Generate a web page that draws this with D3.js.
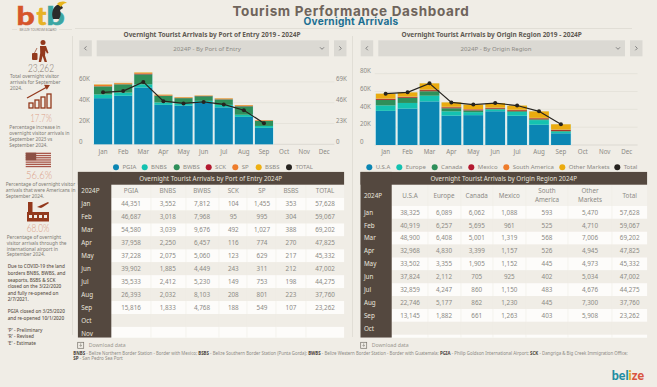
<!DOCTYPE html>
<html>
<head>
<title>Tourism Performance Dashboard</title>
<script src="https://d3js.org/d3.v7.min.js"></script>
<style>
html, body { margin: 0; padding: 0; background: #f0ede6; }
svg { display: block; font-family: "Noto Sans", sans-serif; }
.axis text { fill: #8c8a85; font-size: 6.2px; font-family: "Noto Sans", sans-serif; }
.axis path, .axis line { display: none; }
.side { fill: #7d7a74; font-size: 4.8px; }
.note { fill: #5c5249; font-size: 4.7px; font-weight: 500; }
.pct { fill: #dc9f87; font-size: 12px; font-weight: 300; font-family: "Lato", sans-serif; text-anchor: middle; }
</style>
</head>
<body>
<div id="chart"></div>
<script>
// months
var months = ["Jan","Feb","Mar","Apr","May","Jun","Jul","Aug","Sep","Oct","Nov","Dec"];

// by port of entry, 2024P
var pgia = [44351,46687,54580,37958,37228,39902,35533,26393,15816];
var bnbs = [3552,3018,3039,2250,2075,1885,2412,2032,1833];
var bwbs = [7812,7968,9676,6457,5060,4449,5230,8103,4768];
var sck = [104,95,492,116,123,243,149,208,188];
var sp = [1455,995,1027,774,629,311,753,801,549];
var bsbs = [353,304,388,270,217,212,198,223,107];

// by origin region, 2024P
var usa = [38325,40919,48900,32968,33502,37824,32859,22746,13145];
var europe = [6089,6257,6408,4830,3355,2112,4247,5177,1882];
var canada = [6062,5695,5001,3399,1905,705,860,862,661];
var mexico = [1088,961,1319,1157,1152,925,1150,1230,1263];
var southAmerica = [593,525,568,526,445,402,483,445,403];
var otherMarkets = [5470,4710,7006,4945,4973,5034,4676,7300,5908];

var totals = [57628,59067,69202,47825,45332,47002,44275,37760,23262];

var portNames = ["PGIA","BNBS","BWBS","SCK","SP","BSBS"];
var regionNames = ["U.S.A","Europe","Canada","Mexico","South America","Other Markets"];
var portColors = ["#0b86b3","#14c2b0","#2f8f5a","#b3192f","#ee7c2b","#eeb012"];
var regionColors = ["#0b86b3","#14c2b0","#2f8f5a","#a8382a","#ee7c2b","#ebab0f"];

var leftTicks = [0,20000,40000,60000];
var rightTicks = [0,23067,46134,69202];
var regionTicks = [0,20000,40000,60000,80000];

var bg = "#f0ede6", dark = "#54483f";
var width = 657, height = 387;

var svg = d3.select("#chart").append("svg").attr("width", width).attr("height", height);
var fmtK = function(d){ return d === 0 ? "0" : Math.round(d/1000) + "K"; };

// header
svg.append("text").attr("x",351).attr("y",15.6).attr("text-anchor","middle")
	.style("font-family","Inter").style("font-weight",700).style("font-size","13.5px")
	.style("letter-spacing","0.65px").attr("fill","#6f645b").text("Tourism Performance Dashboard");
svg.append("text").attr("x",351).attr("y",24.8).attr("text-anchor","middle")
	.style("font-family","Inter").style("font-weight",700).style("font-size","10.1px")
	.style("letter-spacing","0.25px").attr("fill","#1c6f92").text("Overnight Arrivals");
svg.append("line").attr("x1",75).attr("x2",632).attr("y1",28.5).attr("y2",28.5).attr("stroke","#e1ded6");
svg.append("line").attr("x1",352.5).attr("x2",352.5).attr("y1",36).attr("y2",337).attr("stroke","#e1ded6");
svg.append("line").attr("x1",72.5).attr("x2",72.5).attr("y1",36).attr("y2",335).attr("stroke","#e1ded6");

function selector(c){
	var g = svg.append("g");
	[[c.prev,12.5],[c.box,c.boxW],[c.next,12.5]].forEach(function(b){
		g.append("rect").attr("x",b[0]).attr("y",40.3).attr("width",b[1]).attr("height",16).attr("fill","#dbd9d3");
	});
	g.append("path").attr("d","M"+(c.prev+7.2)+" 46.3l-2 2 2 2").attr("fill","none").attr("stroke","#777").attr("stroke-width",0.9);
	g.append("path").attr("d","M"+(c.next+5.3)+" 46.3l2 2-2 2").attr("fill","none").attr("stroke","#777").attr("stroke-width",0.9);
	g.append("path").attr("d","M"+(c.box+c.boxW-9)+" 47.3l2 2 2-2").attr("fill","none").attr("stroke","#777").attr("stroke-width",0.9);
	g.append("text").attr("x",c.box+c.boxW/2+(c.textShift||0)).attr("y",50.5).attr("text-anchor","middle")
		.attr("fill","#8c8a85").style("font-size","6.1px").text(c.label);
}

function drawChart(c){
	svg.append("text").attr("x",c.titleX).attr("y",36.7).attr("text-anchor","middle")
		.attr("fill","#5f5a53").style("font-size","6.5px").style("font-weight",700).text(c.title);

	selector(c);

	var x = d3.scaleBand().domain(months).range(c.xRange).paddingInner(0.1).paddingOuter(0.05);
	var y = d3.scaleLinear().domain(c.yDomain).range(c.yRange);
	var yLine = d3.scaleLinear().domain(c.lineDomain).range(c.yRange);

	// gridlines
	svg.append("g").selectAll("line").data(c.ticks).join("line")
		.attr("x1",c.xRange[0]).attr("x2",c.xRange[1])
		.attr("y1",function(d){ return y(d); }).attr("y2",function(d){ return y(d); })
		.attr("stroke",function(d){ return d === 0 ? "#dcd9d2" : "#e6e3db"; });

	// y axes, tableau style with labels sitting over the gridline
	var ax = svg.append("g").attr("class","axis").attr("transform","translate("+c.axisX+",0)")
		.call(d3.axisLeft(y).tickValues(c.ticks).tickFormat(fmtK).tickSize(0).tickPadding(0));
	ax.selectAll("text").attr("text-anchor","start").attr("dy","-1.3px");

	if (c.rightTicks) {
		var ax2 = svg.append("g").attr("class","axis").attr("transform","translate("+c.axisRightX+",0)")
			.call(d3.axisRight(yLine).tickValues(c.rightTicks).tickFormat(fmtK).tickSize(0).tickPadding(0));
		ax2.selectAll("text").attr("dy","-1.3px");
	}

	svg.append("g").attr("class","axis").attr("transform","translate(0,148.8)")
		.call(d3.axisBottom(x).tickSize(0).tickPadding(0))
		.selectAll("text").attr("dy","5.2px");

	// pale halo behind each bar
	svg.append("g").selectAll("rect").data(totals).join("rect")
		.attr("x",function(d, i){ return x(months[i]) - 0.7; })
		.attr("width",x.bandwidth() + 1.4)
		.attr("y",function(d){ return y(d); })
		.attr("height",function(d){ return y(0) - y(d); })
		.attr("fill","#d6f0f3");

	// stacked bars
	var rows = c.series[0].map(function(_, i){
		var r = {month: months[i]};
		c.names.forEach(function(n, k){ r[n] = c.series[k][i]; });
		return r;
	});
	var layers = d3.stack().keys(c.names)(rows);
	svg.append("g").selectAll("g").data(layers).join("g")
		.attr("fill",function(d, i){ return c.colors[i]; })
		.selectAll("rect").data(function(d){ return d; }).join("rect")
		.attr("x",function(d){ return x(d.data.month); })
		.attr("width",x.bandwidth())
		.attr("y",function(d){ return y(d[1]); })
		.attr("height",function(d){ return y(d[0]) - y(d[1]); });

	// total line
	var line = d3.line()
		.x(function(d, i){ return x(months[i]) + x.bandwidth()/2; })
		.y(function(d){ return yLine(d); });
	svg.append("path").attr("d",line(totals)).attr("fill","none").attr("stroke","#26231f").attr("stroke-width",1.2);
	svg.append("g").selectAll("circle").data(totals).join("circle")
		.attr("cx",function(d, i){ return x(months[i]) + x.bandwidth()/2; })
		.attr("cy",function(d){ return yLine(d); })
		.attr("r",2).attr("fill","#26231f");

	// legend
	var legend = svg.append("g").selectAll("g").data(c.legend).join("g")
		.attr("transform",function(d){ return "translate("+d.x+",167.3)"; });
	legend.append("circle").attr("r",3).attr("fill",function(d){ return d.color; });
	legend.append("text").attr("x",6.4).attr("y",2.1).attr("fill","#8c8a85").style("font-size","6px")
		.text(function(d){ return d.name; });
}

function drawTable(c){
	var id = "clip" + Math.round(c.left);
	svg.append("clipPath").attr("id",id).append("rect")
		.attr("x",c.left).attr("y",171.7).attr("width",c.right-c.left).attr("height",166);
	var g = svg.append("g").attr("clip-path","url(#"+id+")");

	var rowMonths = months.slice(0,11);
	var y = d3.scaleBand().domain(rowMonths).range([c.bodyTop, c.bodyTop + c.rowH*11]);
	var cx = d3.scaleOrdinal().domain(c.headers).range(c.centers);

	// striped rows
	g.selectAll(".stripe").data(rowMonths).join("rect")
		.attr("x",c.colX).attr("width",c.right-c.colX)
		.attr("y",function(d){ return y(d); }).attr("height",y.bandwidth())
		.attr("fill",function(d, i){ return i % 2 ? bg : "#fdfcfa"; });
	g.append("rect").attr("x",c.colX).attr("width",c.right-c.colX).attr("y",184.7).attr("height",c.bodyTop-184.7).attr("fill","#f4f2ed");
	g.selectAll(".sep").data(c.seps).join("line")
		.attr("x1",function(d){ return d; }).attr("x2",function(d){ return d; })
		.attr("y1",184.7).attr("y2",337.7).attr("stroke","#f0ede6").attr("stroke-width",0.6);

	g.append("rect").attr("x",c.left).attr("y",171.7).attr("width",c.right-c.left).attr("height",13).attr("fill",dark);
	g.append("rect").attr("x",c.left).attr("y",171.7).attr("width",c.colX-c.left).attr("height",166).attr("fill",dark);

	g.append("text").attr("x",c.titleX).attr("y",180.5).attr("text-anchor","middle")
		.attr("fill","#e9e5de").style("font-size","6.3px").text(c.title);
	g.append("text").attr("x",c.left+3.6).attr("y",(184.7+c.bodyTop)/2+2.3)
		.attr("fill","#e9e5de").style("font-size","6.3px").text("2024P");

	// column headers, two words go on two lines
	c.headers.forEach(function(h){
		var parts = c.wrap && h.indexOf(" ") > 0 ? h.split(" ") : [h];
		parts.forEach(function(p, i){
			g.append("text").attr("x",cx(h))
				.attr("y",(184.7+c.bodyTop)/2+2.3+(i-(parts.length-1)/2)*8.6)
				.attr("text-anchor","middle").attr("fill","#8c8a85").style("font-size","6.3px").text(p);
		});
	});

	// row labels
	g.selectAll(".mon").data(rowMonths).join("text")
		.attr("x",c.left+3.6).attr("y",function(d){ return y(d) + y.bandwidth()/2 + 2.3; })
		.attr("fill","#e9e5de").style("font-size","6.3px").text(function(d){ return d; });

	// values
	var fmt = d3.format(",");
	c.columns.forEach(function(col, k){
		g.append("g").selectAll("text").data(col).join("text")
			.attr("x",cx(c.headers[k]))
			.attr("y",function(d, i){ return y(months[i]) + y.bandwidth()/2 + 2.3; })
			.attr("text-anchor","middle").attr("fill","#8c8a85").style("font-size","6.3px")
			.text(function(d){ return fmt(d); });
	});

	// download link
	var dl = svg.append("g").attr("transform","translate("+c.dlX+",345.3)");
	dl.append("rect").attr("x",-3).attr("y",-3).attr("width",6).attr("height",6).attr("fill","none").attr("stroke","#77736c").attr("stroke-width",0.7);
	dl.append("path").attr("d","M0 -2v3M-1.2 -0.2L0 1l1.2 -1.2").attr("fill","none").attr("stroke","#77736c").attr("stroke-width",0.6);
	dl.append("text").attr("x",8).attr("y",1.9).attr("fill","#9a978f").style("font-size","5.2px").text("Download data");
}

drawChart({
	title:"Overnight Tourist Arrivals by Port of Entry 2019 - 2024P", titleX:212,
	label:"2024P - By Port of Entry", prev:79.3, box:96.7, boxW:232.3, next:334, textShift:-5.8,
	xRange:[93,334.4], yDomain:[0,60000], yRange:[144.3,81.9], lineDomain:[0,69202],
	ticks:leftTicks, rightTicks:rightTicks, axisX:79, axisRightX:336,
	series:[pgia,bnbs,bwbs,sck,sp,bsbs], names:portNames, colors:portColors,
	legend:[
		{name:"PGIA",x:116,color:portColors[0]},{name:"BNBS",x:144.7,color:portColors[1]},
		{name:"BWBS",x:176.7,color:portColors[2]},{name:"SCK",x:208.7,color:portColors[3]},
		{name:"SP",x:235.3,color:portColors[4]},{name:"BSBS",x:258.7,color:portColors[5]},
		{name:"TOTAL",x:289,color:"#26231f"}
	]
});

drawChart({
	title:"Overnight Tourist Arrivals by Origin Region 2019 - 2024P", titleX:491.7,
	label:"2024P - By Origin Region", prev:360.7, box:378.3, boxW:246.7, next:630, textShift:-5.6,
	xRange:[374.7,637.6], yDomain:[0,80000], yRange:[145,73.7], lineDomain:[0,80000],
	ticks:regionTicks, axisX:360,
	series:[usa,europe,canada,mexico,southAmerica,otherMarkets], names:regionNames, colors:regionColors,
	legend:[
		{name:"U.S.A",x:369.3,color:regionColors[0]},{name:"Europe",x:399.3,color:regionColors[1]},
		{name:"Canada",x:434.7,color:regionColors[2]},{name:"Mexico",x:471.3,color:"#b3192f"},
		{name:"South America",x:506.3,color:regionColors[4]},{name:"Other Markets",x:562.3,color:regionColors[5]},
		{name:"Total",x:617.3,color:"#26231f"}
	]
});

drawTable({
	title:"Overnight Tourist Arrivals by Port of Entry 2024P", titleX:210.7,
	left:77.7, right:344.3, colX:111.3, bodyTop:197.6, rowH:12.93,
	headers:portNames.concat("TOTAL"), centers:[131,167.7,202,233.3,262,291,325],
	seps:[151,186,219,247,276,306],
	columns:[pgia,bnbs,bwbs,sck,sp,bsbs,totals], dlX:80.7
});

drawTable({
	title:"Overnight Tourist Arrivals by Origin Region 2024P", titleX:503.7, wrap:true,
	left:360.3, right:647.3, colX:391.7, bodyTop:206, rowH:12.87,
	headers:regionNames.concat("Total"), centers:[410,444,476.7,509.3,547,590,629.7],
	seps:[428,461,493,526,568,612],
	columns:[usa,europe,canada,mexico,southAmerica,otherMarkets,totals], dlX:363.7
});

// footnote
var foot = svg.append("g").style("font-size","4.5px").attr("fill","#8c8a85");
var line1 = foot.append("text").attr("x",73.3).attr("y",355.4)
	.attr("textLength",554.4).attr("lengthAdjust","spacingAndGlyphs");
[["BNBS",1]," - Belize Northern Border Station - Border with Mexico; ",["BSBS",1]," - Belize Southern Border Station (Punta Gorda); ",["BWBS",1],
 " - Belize Western Border Station - Border with Guatemala; ",["PGIA",1]," - Philip Goldson International Airport; ",["SCK",1]," - Dangriga & Big Creek Immigration Office;"]
.forEach(function(p){
	if (typeof p === "string") line1.append("tspan").text(p);
	else line1.append("tspan").attr("fill","#4a433c").style("font-weight",700).text(p[0]);
});
var line2 = foot.append("text").attr("x",73.3).attr("y",360.4);
line2.append("tspan").attr("fill","#4a433c").style("font-weight",700).text("SP");
line2.append("tspan").text(" - San Pedro Sea Port");

// belize logo
var bz = svg.append("text").attr("x",611.7).attr("y",380).style("font-family","Lato").style("font-weight",900).style("font-size","12.4px");
bz.append("tspan").attr("fill","#1f8ea3").text("bel");
bz.append("tspan").attr("fill","#e5a823").text("i");
bz.append("tspan").attr("fill","#d9553f").text("ze");

// side panel
var side = svg.append("g");
function logoLetter(t, xp, col, sx){
	side.append("text").attr("transform","translate("+xp+",25) scale("+sx+",1)").attr("fill",col)
		.attr("stroke",col).attr("stroke-width",0.5)
		.style("font-family","Lato").style("font-weight",900).style("font-size","25px").text(t);
}
logoLetter("b",16.5,"#d6552b",1.28);
logoLetter("t",36.5,"#e7b226",1.05);
logoLetter("b",46.5,"#3ba6a3",1.28);
side.append("path").attr("d","M53 19c-2-6 0-12 4-14 3-1 5 0 6 3l-3 2c1 3 1 6-1 9z").attr("fill","#2b2b2b");
side.append("path").attr("d","M57 4c3-3 7-3 10-1-3 0-5 2-6 4z").attr("fill","#e8b51f");
side.append("text").attr("x",38).attr("y",31).attr("text-anchor","middle").attr("fill","#8a867f")
	.style("font-size","3.2px").text("BELIZE TOURISM BOARD");
side.append("path").attr("d","M12 29.5h5M59 29.5h13").attr("stroke","#d6d3cb").attr("stroke-width",0.5);

var rust = "#93391d";
// traveller
var tr = side.append("g").attr("fill",rust);
tr.append("circle").attr("cx",43).attr("cy",42.5).attr("r",2.5);
tr.append("path").attr("d","M40 46h6l2.5 7-1.5.6-1.5-3-.5 5 2 6.4h-2.4l-2-6-1.5 6h-2.4l1.5-9z");
tr.append("rect").attr("x",32).attr("y",53).attr("width",5.5).attr("height",7).attr("rx",1);
tr.append("path").attr("d","M34.5 53l2.5-5").attr("stroke",rust).attr("stroke-width",0.7);

// bars and arrow
var bi = side.append("g").attr("fill","none").attr("stroke",rust).attr("stroke-width",1.3);
[[29,103],[35,100],[41,97],[47,94]].forEach(function(b){
	bi.append("rect").attr("x",b[0]).attr("y",b[1]).attr("width",4).attr("height",108-b[1]);
});
bi.append("path").attr("d","M27 98l20-11");
side.append("path").attr("d","M50 85l-6-.3 2.8 5z").attr("fill",rust);

// flag
var flag = side.append("g");
d3.range(7).forEach(function(i){
	flag.append("rect").attr("x",25.7).attr("y",152.7+i*2.2).attr("width",25.3).attr("height",1.3).attr("fill","#a9574a");
});
flag.append("rect").attr("x",25.7).attr("y",152.7).attr("width",10.5).attr("height",7.5).attr("fill","#8c5044");

// airport
var ap = side.append("g").attr("fill",rust);
ap.append("rect").attr("x",27).attr("y",212).attr("width",22).attr("height",9.5);
ap.append("rect").attr("x",28).attr("y",202).attr("width",4.5).attr("height",10);
ap.append("path").attr("d","M37 207l11-5 1 1-6 4-2 1z");
d3.range(4).forEach(function(i){
	side.append("rect").attr("x",29+i*5).attr("y",215).attr("width",3).attr("height",3).attr("fill",bg);
});

function sideText(cls, xp, lines){
	lines.forEach(function(l){
		side.append("text").attr("class",cls).attr("x",xp).attr("y",l[1]).text(l[0]);
	});
}
function bigNumber(t, xp, yp, w, col){
	var n = side.append("text").attr("class","pct").attr("x",xp).attr("y",yp)
		.attr("textLength",w).attr("lengthAdjust","spacingAndGlyphs").text(t);
	if (col) n.style("fill",col);
}
bigNumber("23,262",41,71.7,26,"#85776f");
bigNumber("17.7%",41,121.7,21.7);
bigNumber("56.6%",39,179,26);
bigNumber("68.0%",38,232.3,22.7);

sideText("side",10,[["Total overnight visitor",77.5],["arrivals for September",83.8],["2024.",90]]);
sideText("side",9.3,[["Percentage increase in",129],["overnight visitor arrivals in",135],["September 2023 vs",141],["September 2024.",147]]);
sideText("side",5.7,[["Percentage of overnight visitor",186],["arrivals that were Americans in",192],["September 2024.",197.5]]);
sideText("side",6.7,[["Percentage of overnight",238.5],["visitor arrivals through the",244.5],["international airport in",250.5],["September 2024.",256.3]]);
sideText("note",7.7,[["Due to COVID-19 the land",268],["borders BNBS, BWBS, and",275],["seaports, BSBS & SCK",281.5],["closed on the 3/22/2020",288],["and fully re-opened on",294.5],["2/7/2021.",301]]);
sideText("note",7.7,[["PGIA closed on 3/25/2020",312.5],["and re-opened 10/1/2020",319.5]]);
sideText("note",7.7,[["'P' - Preliminary",331.5],["'R' - Revised",338],["'E' - Estimate",344.5]]);
</script>
</body>
</html>
